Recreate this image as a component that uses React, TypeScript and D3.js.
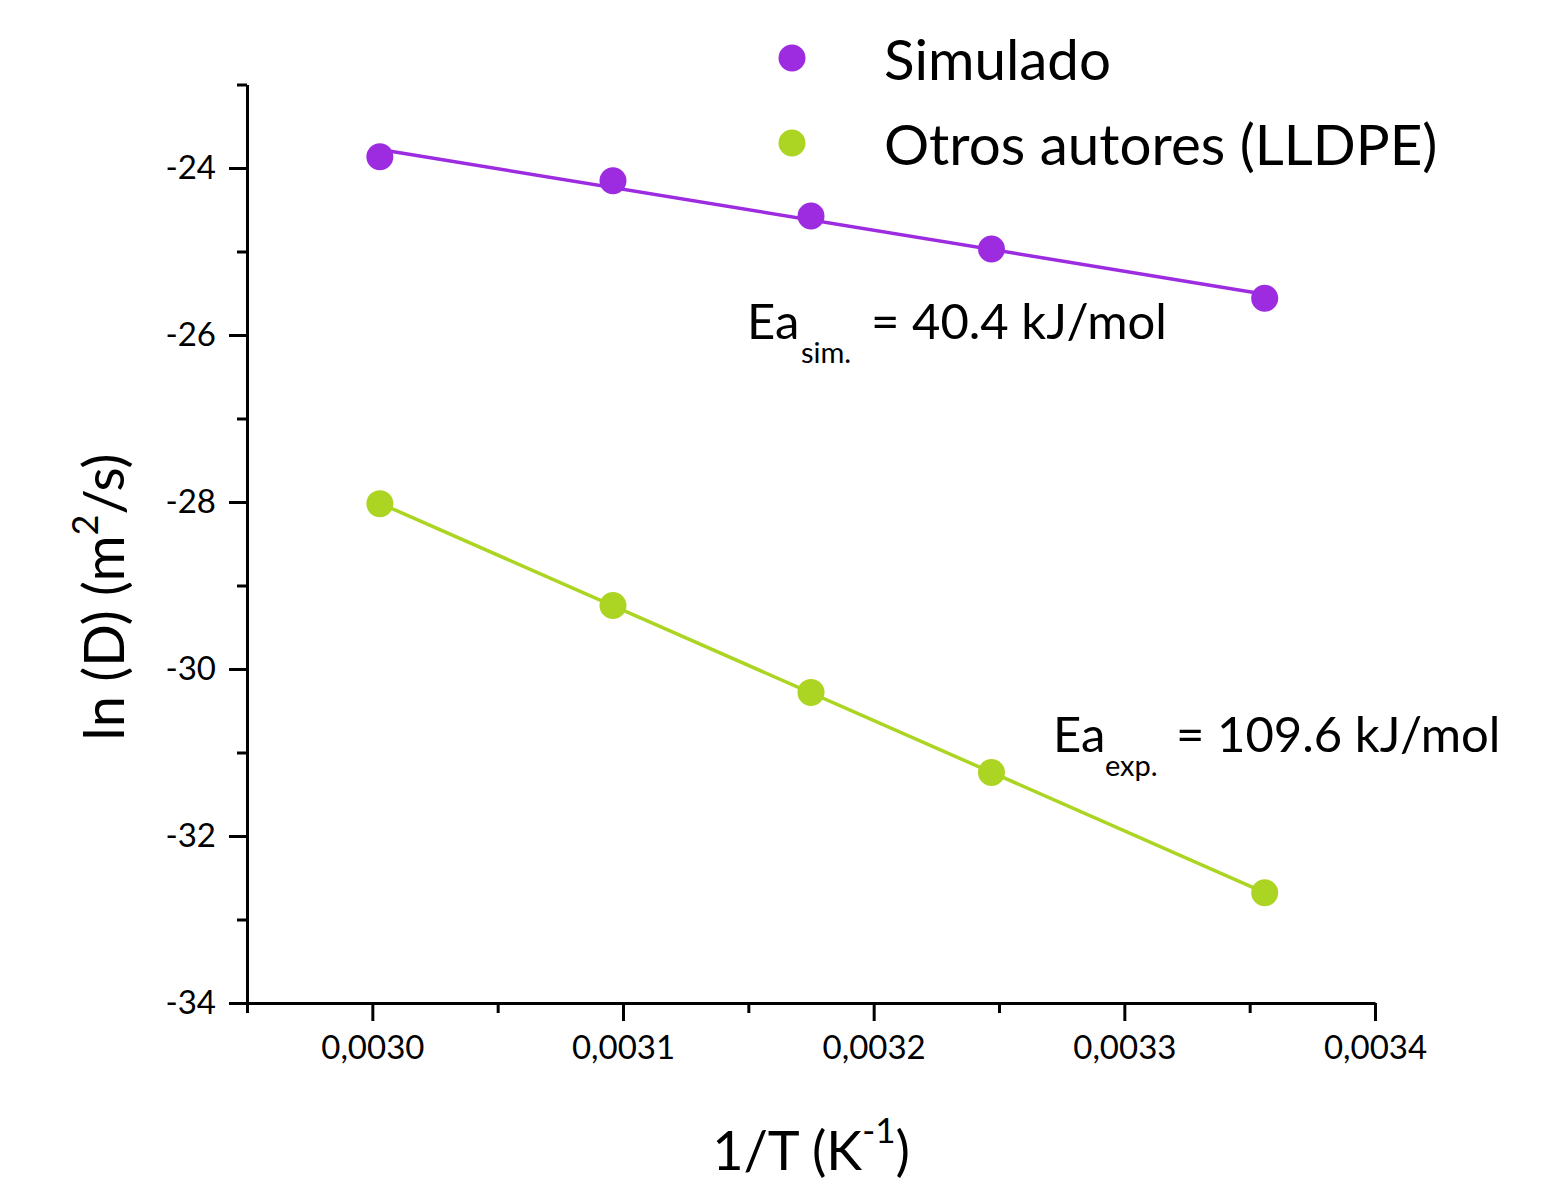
import React, { useEffect, useRef } from 'react';
import * as d3 from 'd3';

// 1/T values (K^-1) for 333, 323, 315, 308 and 298 K
const invTemp = [0.003003, 0.003096, 0.003175, 0.003247, 0.003356];
// ln(D)
const lnDSimulado = [-23.865, -24.152, -24.575, -24.97, -25.56];
const lnDOtros = [-28.02, -29.24, -30.28, -31.24, -32.68];

const seriesNames = ['Simulado', 'Otros autores (LLDPE)'];
const seriesColors = ['#9d2be0', '#acd523'];

const xMajorTicks = [0.0030, 0.0031, 0.0032, 0.0033, 0.0034];
const xMinorTicks = [0.00295, 0.00305, 0.00315, 0.00325, 0.00335];
const yMajorTicks = [-24, -26, -28, -30, -32, -34];
const yMinorTicks = [-23, -25, -27, -29, -31, -33];

const FONT = "Lato, 'Open Sans', sans-serif";

// least squares line, returns y(x)
function linearFit(xs: number[], ys: number[]) {
  const mx = d3.mean(xs) as number;
  const my = d3.mean(ys) as number;
  let num = 0;
  let den = 0;
  xs.forEach((x, i) => {
    num += (x - mx) * (ys[i] - my);
    den += (x - mx) * (x - mx);
  });
  const b = num / den;
  const a = my - b * mx;
  return (x: number) => a + b * x;
}

const App = () => {
  const svgRef = useRef<SVGSVGElement>(null);

  useEffect(() => {
    const width = 1556;
    const height = 1181;

    const svg = d3.select(svgRef.current);
    svg.selectAll('*').remove();
    svg.attr('width', width).attr('height', height)
      .style('font-family', FONT)
      .style('background', '#fff');

    // --- Scales ---
    const x = d3.scaleLinear().domain([0.00295, 0.0034]).range([247, 1375]);
    const y = d3.scaleLinear().domain([-34, -23]).range([1003, 84.5]);

    const locale = d3.formatLocale({
      decimal: ',', thousands: '.', grouping: [3], currency: ['', ''], minus: '-',
    });
    const fmtX = locale.format('.4f');
    const fmtY = locale.format('d');

    // --- Minor ticks ---
    svg.append('g')
      .attr('transform', `translate(0,${y(-34)})`)
      .call(d3.axisBottom(x).tickValues(xMinorTicks).tickSize(10).tickFormat(() => ''))
      .call(g => g.select('.domain').remove())
      .call(g => g.selectAll('line').attr('stroke', '#000').attr('stroke-width', 3));

    svg.append('g')
      .attr('transform', `translate(${x(0.00295)},0)`)
      .call(d3.axisLeft(y).tickValues(yMinorTicks).tickSize(10).tickFormat(() => ''))
      .call(g => g.select('.domain').remove())
      .call(g => g.selectAll('line').attr('stroke', '#000').attr('stroke-width', 3));

    // --- Major axes ---
    svg.append('g')
      .attr('transform', `translate(0,${y(-34)})`)
      .call(d3.axisBottom(x).tickValues(xMajorTicks).tickSize(18).tickSizeOuter(0)
        .tickPadding(15).tickFormat(d => fmtX(d as number)))
      .call(g => g.select('.domain').attr('stroke', '#000').attr('stroke-width', 3))
      .call(g => g.selectAll('line').attr('stroke', '#000').attr('stroke-width', 3))
      .call(g => g.selectAll('text').attr('fill', '#000')
        .style('font-family', FONT).style('font-size', '33px'));

    svg.append('g')
      .attr('transform', `translate(${x(0.00295)},0)`)
      .call(d3.axisLeft(y).tickValues(yMajorTicks).tickSize(18).tickSizeOuter(0)
        .tickPadding(13).tickFormat(d => fmtY(d as number)))
      .call(g => g.select('.domain').attr('stroke', '#000').attr('stroke-width', 3))
      .call(g => g.selectAll('line').attr('stroke', '#000').attr('stroke-width', 3))
      .call(g => g.selectAll('text').attr('fill', '#000')
        .style('font-family', FONT).style('font-size', '33px'));

    // --- Axis titles ---
    const xt = svg.append('text')
      .attr('x', (x.range()[0] + x.range()[1]) / 2)
      .attr('y', 1170)
      .attr('text-anchor', 'middle')
      .style('font-size', '54px');
    xt.append('tspan').text('1/T (K');
    xt.append('tspan').attr('dy', -27).style('font-size', '35px').text('-1');
    xt.append('tspan').attr('dy', 27).text(')');

    const yt = svg.append('text')
      .attr('transform', `translate(124,597) rotate(-90)`)
      .attr('text-anchor', 'middle')
      .style('font-size', '56px');
    yt.append('tspan').text('ln (D) (m');
    yt.append('tspan').attr('dy', -26).style('font-size', '36px').text('2');
    yt.append('tspan').attr('dy', 26).text('/s)');

    // --- Series: fit lines and points ---
    const seriesValues = [lnDSimulado, lnDOtros];
    seriesValues.forEach((vals, si) => {
      const fit = linearFit(invTemp, vals);
      const x0 = d3.min(invTemp) as number;
      const x1 = d3.max(invTemp) as number;
      svg.append('line')
        .attr('x1', x(x0)).attr('y1', y(fit(x0)))
        .attr('x2', x(x1)).attr('y2', y(fit(x1)))
        .attr('stroke', seriesColors[si])
        .attr('stroke-width', 3.5);

      svg.append('g')
        .selectAll('circle')
        .data(vals)
        .join('circle')
        .attr('cx', (d, i) => x(invTemp[i]))
        .attr('cy', d => y(d))
        .attr('r', 13.5)
        .attr('fill', seriesColors[si]);
    });

    // --- Legend ---
    const legend = svg.append('g');
    seriesNames.forEach((name, i) => {
      legend.append('circle')
        .attr('cx', 792).attr('cy', 58 + i * 85)
        .attr('r', 13.5)
        .attr('fill', seriesColors[i]);
      legend.append('text')
        .attr('x', 884).attr('y', 80 + i * 85)
        .attr('fill', '#000')
        .style('font-size', '56.5px')
        .text(name);
    });

    // --- Activation energy labels ---
    const ea = [
      { x: 747, y: 339, sub: 'sim.', subX: 801, eqX: 871, eq: '= 40.4 kJ/mol' },
      { x: 1053, y: 752, sub: 'exp.', subX: 1105, eqX: 1176, eq: '= 109.6 kJ/mol' },
    ];
    ea.forEach(d => {
      svg.append('text').attr('x', d.x).attr('y', d.y)
        .style('font-size', '49px').text('Ea');
      svg.append('text').attr('x', d.subX).attr('y', d.y + 24)
        .style('font-size', '29px').text(d.sub);
      svg.append('text').attr('x', d.eqX).attr('y', d.y)
        .style('font-size', '49px').text(d.eq);
    });
  }, []);

  return (
    <svg ref={svgRef} style={{ position: 'absolute', left: 0, top: 0 }}></svg>
  );
};

export default App;
